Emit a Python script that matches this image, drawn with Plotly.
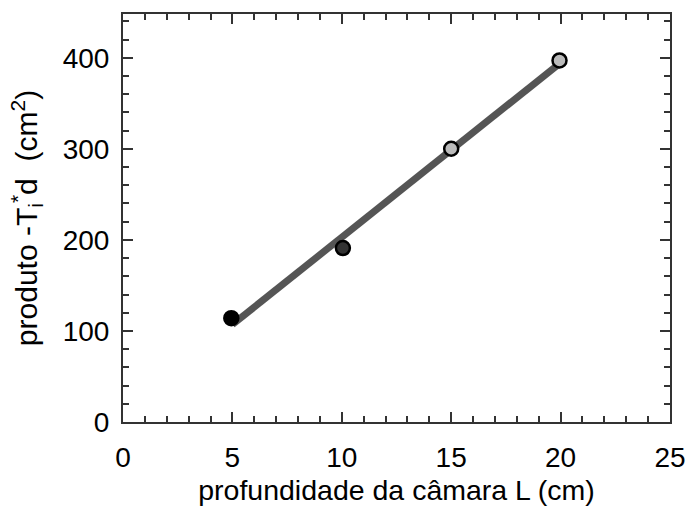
import numpy as np
import plotly.graph_objects as go

depth_cm = [4.95, 10.05, 15.0, 19.95]
product = [114, 191, 300, 397]
marker_colors = ["#000000", "#333333", "#bbbbbb", "#bbbbbb"]

x_ticks = [0, 5, 10, 15, 20, 25]
y_ticks = [0, 100, 200, 300, 400]

slope, intercept = np.polyfit(depth_cm, product, 1)
fit_x = [5, 20]
fit_y = [slope * v + intercept for v in fit_x]

FONT = "Liberation Sans, Arial"

fig = go.Figure()
fig.add_trace(go.Scatter(x=fit_x, y=fit_y, mode="lines",
                         line=dict(color="#555555", width=7), showlegend=False))
fig.add_trace(go.Scatter(x=depth_cm, y=product, mode="markers",
                         marker=dict(size=14, color=marker_colors,
                                     line=dict(color="#000000", width=2.5)),
                         showlegend=False))

axis_common = dict(showgrid=False, zeroline=False, showline=True, linecolor="#333333",
                   linewidth=2, mirror="allticks", ticks="inside", ticklen=10,
                   tickwidth=2, tickcolor="#333333", automargin=False,
                   tickfont=dict(family=FONT, size=28, color="#000"))

fig.update_xaxes(range=[0, 25], tickvals=x_ticks, ticktext=[str(v) for v in x_ticks],
                 ticklabelstandoff=9,
                 minor=dict(dtick=1, ticks="inside", ticklen=6, tickwidth=1.5, tickcolor="#333333"),
                 title=dict(text="profundidade da câmara L (cm)", standoff=10,
                            font=dict(family=FONT, size=28.5, color="#000")),
                 **axis_common)
fig.update_yaxes(range=[0, 448], tickvals=y_ticks, ticktext=[str(v) for v in y_ticks],
                 ticklabelstandoff=6,
                 minor=dict(dtick=20, ticks="inside", ticklen=6, tickwidth=1.5, tickcolor="#333333"),
                 title=dict(text="produto -T<sub>i</sub><sup>*</sup>d  (cm<sup>2</sup>)", standoff=16,
                            font=dict(family=FONT, size=30, color="#000")),
                 **axis_common)

fig.update_layout(width=686, height=506, margin=dict(l=123, r=16, t=14, b=84),
                  plot_bgcolor="white", paper_bgcolor="white")
fig.write_html("out.html", config={"displayModeBar": False},
               post_script="document.body.style.margin='0px';")
